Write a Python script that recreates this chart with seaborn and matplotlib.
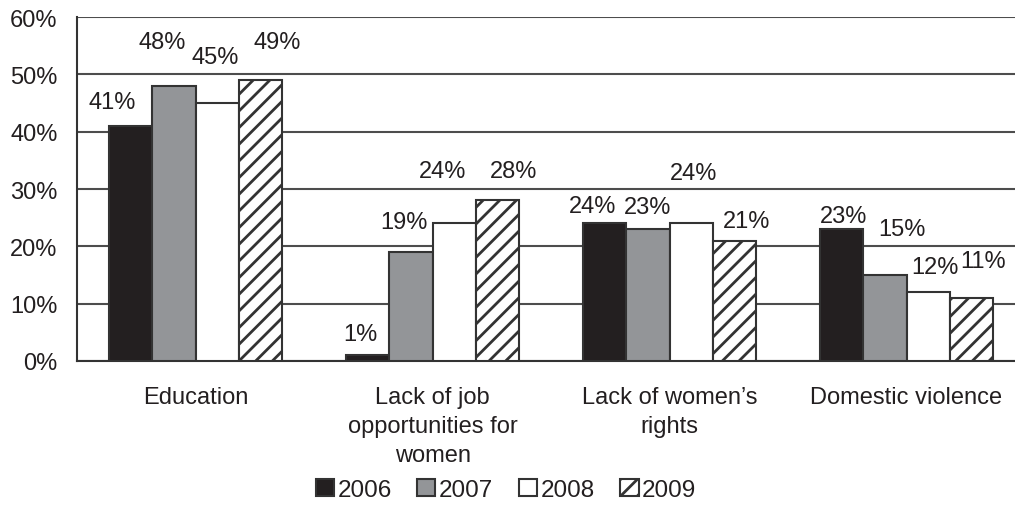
import pandas as pd
import matplotlib.pyplot as plt
import seaborn as sns


# Chart data
categories = [
    "Education",
    "Lack of job\nopportunities for\nwomen",
    "Lack of women\u2019s\nrights",
    "Domestic violence",
]
years = ["2006", "2007", "2008", "2009"]
values_2006 = [41, 1, 24, 23]
values_2007 = [48, 19, 23, 15]
values_2008 = [45, 24, 24, 12]
values_2009 = [49, 28, 21, 11]

# label nudges relative to each bar (x in category units, y in %)
label_dx = [
    [-0.08, -0.03, -0.05, 0.01],
    [-0.05, -0.03, 0.00, 0.07],
    [-0.01, -0.05, 0.01, 0.03],
    [0.07, 0.07, 0.05, 0.05],
]
label_dy = [
    [4.2, 3.7, 3.0, 2.3],
    [7.6, 5.2, 3.9, 8.0],
    [8.0, 9.1, 8.8, 4.4],
    [6.6, 5.1, 3.4, 6.4],
]

colors = {"2006": "#231f20", "2007": "#939598", "2008": "#ffffff", "2009": "#ffffff"}
edge = "#333333"
text_col = "#231f20"
fs = 17


def build_frame():
    rows = []
    for year, vals in zip(years, [values_2006, values_2007, values_2008, values_2009]):
        for cat, v in zip(categories, vals):
            rows.append({"category": cat, "year": year, "value": v})
    return pd.DataFrame(rows)


df = build_frame()

sns.set_style("white")
plt.rcParams["font.family"] = ["Liberation Sans", "DejaVu Sans"]
plt.rcParams["hatch.linewidth"] = 2.0
plt.rcParams["hatch.color"] = "#231f20"

fig = plt.figure(figsize=(10.15, 5.06), dpi=100)
ax = fig.add_axes([0.0759, 0.2846, 0.934, 0.6798])

sns.barplot(
    data=df, x="category", y="value", hue="year",
    order=categories, hue_order=years, palette=colors,
    width=0.73, saturation=1, edgecolor=edge, linewidth=1.5,
    legend=False, ax=ax, zorder=3,
)

# hatch the 2009 bars
for bar in ax.containers[3]:
    bar.set_hatch("//")

ax.set_ylim(0, 60)
ax.set_xlim(-0.5, 3.5)
ax.set_yticks(range(0, 70, 10))
ax.set_yticklabels([f"{v}%" for v in range(0, 70, 10)])
ax.yaxis.grid(True, color="#4d4d4d", linewidth=1.5)
ax.set_axisbelow(True)
ax.set_xlabel("")
ax.set_ylabel("")

ax.set_xticks(range(len(categories)))
ax.set_xticklabels(categories, fontsize=fs, color=text_col)
ax.set_xticks([-0.5, 0.5, 1.5, 2.5, 3.5], minor=True)
ax.tick_params(axis="x", which="major", length=0, pad=18)
ax.tick_params(axis="x", which="minor", length=5, width=1.5, color=edge, direction="out")
ax.tick_params(axis="y", length=5, width=1.5, color=edge, direction="out",
               labelsize=fs, labelcolor=text_col, pad=9)
for t in ax.get_xticklabels():
    t.set_linespacing(1.4)

for side in ["top", "right"]:
    ax.spines[side].set_visible(False)
for side in ["left", "bottom"]:
    ax.spines[side].set_color(edge)
    ax.spines[side].set_linewidth(1.5)

# value labels
for j, cont in enumerate(ax.containers):
    for i, bar in enumerate(cont):
        x = bar.get_x() + bar.get_width() / 2 + label_dx[j][i]
        y = bar.get_height() + label_dy[j][i]
        ax.text(x, y, f"{bar.get_height():.0f}%", ha="center", va="center",
                fontsize=fs, color=text_col)

fig.legend(
    ax.containers, years, loc="center", bbox_to_anchor=(0.4985, 0.03),
    ncol=4, frameon=False, fontsize=fs + 0.5, handlelength=0.75, handleheight=0.75,
    handletextpad=0.15, columnspacing=1.05, labelcolor=text_col,
)

fig.savefig("out.png", dpi=100)
plt.close(fig)
